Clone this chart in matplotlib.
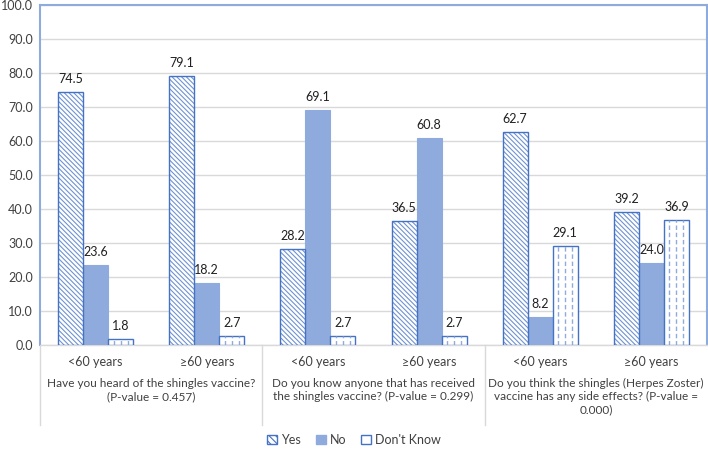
import matplotlib
matplotlib.use("Agg")
import matplotlib.pyplot as plt
import numpy as np
from matplotlib.transforms import blended_transform_factory
from matplotlib.patches import Patch

plt.rcParams['font.family'] = ['Lato', 'DejaVu Sans']
plt.rcParams['hatch.linewidth'] = 0.8

age_labels = ["<60 years", "≥60 years", "<60 years", "≥60 years", "<60 years", "≥60 years"]
questions = ["Have you heard of the shingles vaccine?\n(P-value = 0.457)",
             "Do you know anyone that has received\nthe shingles vaccine? (P-value = 0.299)",
             "Do you think the shingles (Herpes Zoster)\nvaccine has any side effects? (P-value =\n0.000)"]
yes = [74.5, 79.1, 28.2, 36.5, 62.7, 39.2]
no = [23.6, 18.2, 69.1, 60.8, 8.2, 24.0]
dont_know = [1.8, 2.7, 2.7, 2.7, 29.1, 36.9]
series_names = ["Yes", "No", "Don't Know"]
yticks = np.arange(0, 101, 10)

dark = '#4472C4'
mid = '#8FAADC'
txt = '#404040'
fs = 9
fs_q = 8.5

fig = plt.figure(figsize=(7.08, 4.5), dpi=100)
ax = fig.add_axes([40/708, 1-345/450, 667/708, 340/450])

x = np.arange(len(age_labels))
w = 0.225

# Yes: diagonal hatch (lighter hatch lines, dark outline)
ax.bar(x - w, yes, w, facecolor='white', edgecolor='#6F93D2', hatch='\\' * 7, linewidth=0, zorder=3)
b1 = ax.bar(x - w, yes, w, facecolor='none', edgecolor=dark, linewidth=1.0, zorder=4)
b2 = ax.bar(x, no, w, facecolor=mid, edgecolor=mid, linewidth=0.8, zorder=3)
b3 = ax.bar(x + w, dont_know, w, facecolor='white', edgecolor=dark, linewidth=1.0, zorder=4)

# dashed vertical pattern inside Don't Know bars
for r in b3:
    x0, bw, h = r.get_x(), r.get_width(), r.get_height()
    xs = x0 + bw * np.array([0.22, 0.5, 0.78])
    lc = ax.vlines(xs, 0, h, colors=mid, linestyles=(0, (3.2, 2.0)), linewidth=1.0, zorder=4.5)
    lc.set_clip_path(r)

for bars, vals in [(b1, yes), (b2, no), (b3, dont_know)]:
    for r, v in zip(bars, vals):
        ax.annotate(f"{v:.1f}", (r.get_x() + r.get_width()/2, r.get_height()),
                    xytext=(0, 5), textcoords='offset points', ha='center', va='bottom',
                    fontsize=fs, color='#202020', zorder=5)

ax.set_xlim(-0.5, len(age_labels) - 0.5)
ax.set_ylim(0, 100)
ax.set_yticks(yticks)
ax.set_yticklabels([f"{t:.1f}" for t in yticks], fontsize=fs, color=txt)
ax.tick_params(axis='y', length=0, pad=5)
ax.set_xticks([])
ax.grid(axis='y', color='#D9D9D9', linewidth=1.0, zorder=0)
for s in ['left', 'top', 'right']:
    ax.spines[s].set_color(mid)
    ax.spines[s].set_linewidth(1.5)
ax.spines['bottom'].set_color('#D9D9D9')
ax.spines['bottom'].set_linewidth(1.0)

trans = blended_transform_factory(ax.transData, ax.transAxes)
for xi, lab in zip(x, age_labels):
    ax.text(xi, -0.05, lab, transform=trans, ha='center', va='center', fontsize=fs, color=txt)
for i, q in enumerate(questions):
    ax.text(2*i + 0.5, -0.097, q, transform=trans, ha='center', va='top', fontsize=fs_q,
            color=txt, linespacing=1.25)
for sx in [-0.5, 1.5, 3.5]:
    ax.plot([sx, sx], [0, -0.235], transform=trans, color='#D9D9D9', lw=1.0, clip_on=False, zorder=1)

handles = [Patch(facecolor='white', edgecolor=dark, hatch='\\' * 5),
           Patch(facecolor=mid, edgecolor=mid),
           Patch(facecolor='white', edgecolor=dark, hatch='|')]
fig.legend(handles, series_names, loc='center', bbox_to_anchor=(354/708, 1-440/450), ncol=3,
           frameon=False, fontsize=fs, handlelength=0.8, handleheight=0.8, columnspacing=1.2,
           handletextpad=0.3, labelcolor=txt)

fig.savefig("out.png", dpi=100)
